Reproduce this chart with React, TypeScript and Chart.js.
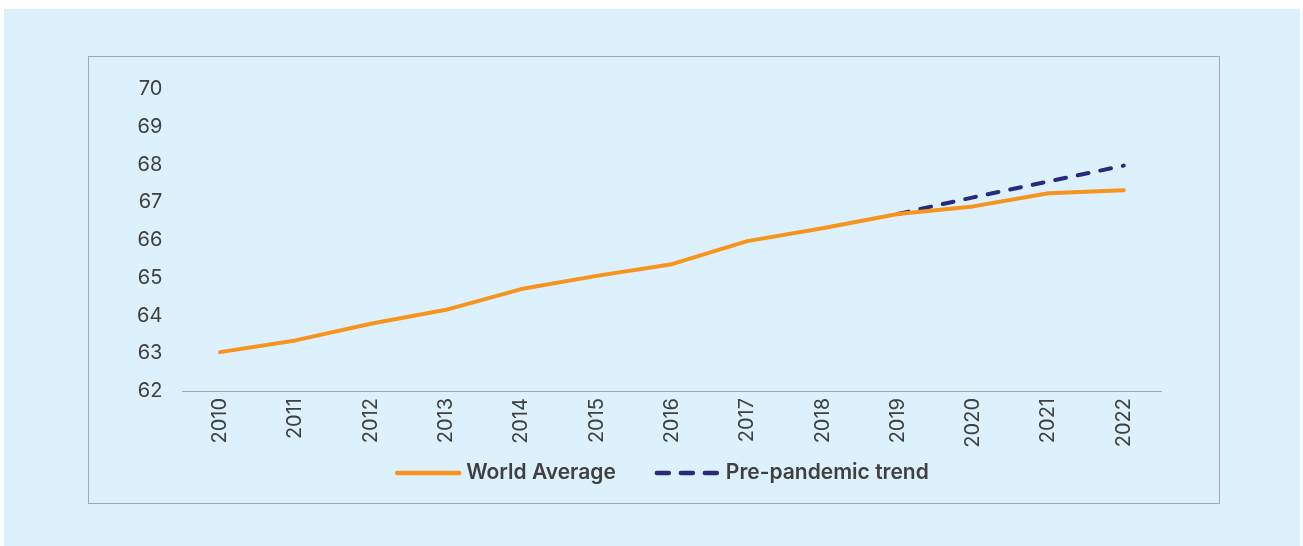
import React, { useEffect, useRef } from "react";
import { Chart, registerables } from "chart.js";

Chart.register(...registerables);

const years = ["2010", "2011", "2012", "2013", "2014", "2015", "2016", "2017", "2018", "2019", "2020", "2021", "2022"];
const worldAverage = [63.03, 63.34, 63.78, 64.15, 64.7, 65.05, 65.36, 65.97, 66.31, 66.69, 66.89, 67.24, 67.32];
const prePandemicTrend = [null, null, null, null, null, null, null, null, null, 66.69, 67.13, 67.55, 67.97];
const seriesNames = ["World Average", "Pre-pandemic trend"];
const yMin = 62;
const yMax = 70;

const ORANGE = "#F7941D";
const NAVY = "#2A2A7C";
const TEXT = "#404040";
const FONT = "Inter, 'Noto Sans', sans-serif";

// Legend drawn beneath the rotated year labels: a line sample followed by the series name.
const bottomLegend = {
  id: "bottomLegend",
  afterDraw(chart: any) {
    const { ctx, chartArea } = chart;
    const sampleW = 64;
    const textGap = 7;
    const itemGap = 39;
    ctx.save();
    ctx.font = `600 21px ${FONT}`;
    const items = chart.data.datasets.map((ds: any) => ({
      label: ds.label as string,
      color: ds.borderColor as string,
      dash: (ds.borderDash || []) as number[],
      textW: ctx.measureText(ds.label).width,
    }));
    const total = items.reduce((s: number, it: any) => s + sampleW + textGap + it.textW, 0) + itemGap * (items.length - 1);
    const cx = chart.width / 2 + 8;
    const y = chartArea.bottom + 82;
    let x = cx - total / 2;
    for (const it of items) {
      ctx.beginPath();
      ctx.lineWidth = 4.5;
      ctx.lineCap = "round";
      ctx.strokeStyle = it.color;
      ctx.setLineDash(it.dash.length ? [12, 12] : []);
      ctx.moveTo(x + 2, y);
      ctx.lineTo(x + sampleW, y);
      ctx.stroke();
      ctx.setLineDash([]);
      ctx.fillStyle = TEXT;
      ctx.textBaseline = "middle";
      ctx.textAlign = "left";
      ctx.fillText(it.label, x + sampleW + textGap, y);
      x += sampleW + textGap + it.textW + itemGap;
    }
    ctx.restore();
  },
};

export default function App() {
  const canvasRef = useRef<HTMLCanvasElement | null>(null);

  useEffect(() => {
    if (!canvasRef.current) return;
    const chart = new Chart(canvasRef.current, {
      type: "line",
      data: {
        labels: years,
        datasets: [
          {
            label: seriesNames[0],
            data: worldAverage,
            borderColor: ORANGE,
            backgroundColor: ORANGE,
            borderWidth: 4,
            borderCapStyle: "round",
            borderJoinStyle: "round",
            pointRadius: 0,
            tension: 0,
          },
          {
            label: seriesNames[1],
            data: prePandemicTrend,
            borderColor: NAVY,
            backgroundColor: NAVY,
            borderWidth: 4,
            borderDash: [11, 12],
            borderCapStyle: "round",
            pointRadius: 0,
            tension: 0,
          },
        ],
      },
      options: {
        responsive: false,
        maintainAspectRatio: false,
        animation: false,
        layout: { padding: { left: 0, right: 57.6, top: 30, bottom: 52 } },
        plugins: {
          legend: { display: false },
          tooltip: { enabled: false },
        },
        scales: {
          x: {
            type: "category",
            offset: true,
            grid: { display: false, drawTicks: false },
            border: { display: true, color: "#A6A6A6", width: 1 },
            ticks: {
              color: TEXT,
              font: { family: FONT, size: 20 },
              minRotation: 90,
              maxRotation: 90,
              padding: 7,
              autoSkip: false,
            },
            afterFit: (scale: any) => {
              scale.height = 60;
            },
          },
          y: {
            min: yMin,
            max: yMax,
            grid: { display: false, drawTicks: false },
            border: { display: false },
            ticks: {
              stepSize: 1,
              color: TEXT,
              font: { family: FONT, size: 20 },
              padding: 20,
            },
            afterFit: (scale: any) => {
              scale.width = 93.4;
            },
          },
        },
      },
      plugins: [bottomLegend],
    });
    return () => chart.destroy();
  }, []);

  return (
    <div
      style={{
        position: "absolute",
        left: 4,
        top: 9,
        width: 1296,
        height: 537,
        background: "#DCF1FB",
      }}
    >
      <div
        style={{
          position: "absolute",
          left: 84,
          top: 47,
          width: 1130,
          height: 446,
          border: "1px solid #A6A6A6",
        }}
      >
        <canvas ref={canvasRef} width={1130} height={446} style={{ display: "block" }} />
      </div>
    </div>
  );
}
